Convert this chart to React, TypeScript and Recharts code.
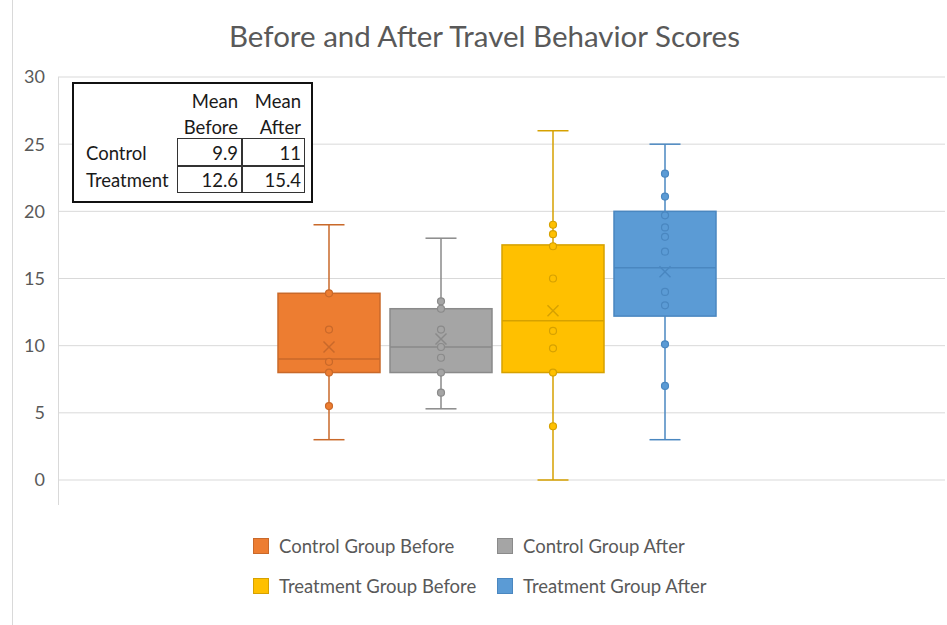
import React from 'react';
import { ComposedChart, Bar, Scatter, XAxis, YAxis, CartesianGrid, Legend } from 'recharts';

// groups (one box each)
const groups = ['Control Group Before', 'Control Group After', 'Treatment Group Before', 'Treatment Group After'];
const whiskerMin = [3, 5.3, 0, 3];
const whiskerMax = [19, 18, 26, 25];
const q1 = [8, 8, 8, 12.2];
const q3 = [13.9, 12.75, 17.5, 20];
const medians = [9, 9.9, 11.85, 15.8];
const means = [9.9, 10.5, 12.6, 15.5];

// inner points
const controlBeforePoints = [13.9, 11.2, 8.8, 8, 5.5];
const controlAfterPoints = [13.3, 12.75, 11.2, 9.9, 9.1, 8, 6.5];
const treatmentBeforePoints = [19, 18.3, 17.4, 15, 11.1, 9.8, 8, 4];
const treatmentAfterPoints = [22.8, 21.1, 19.7, 18.8, 18.1, 17, 14, 13, 10.1, 7];

const yTicks = [0, 5, 10, 15, 20, 25, 30];

// inset table
const tableHeads = [['Mean', 'Before'], ['Mean', 'After']];
const tableRows = ['Control', 'Treatment'];
const tableValues = [['9.9', '11'], ['12.6', '15.4']];

const FILL = ['#ED7D31', '#A5A5A5', '#FFC000', '#5B9BD5'];
const EDGE = ['#C9692A', '#8A8A8A', '#D6A100', '#4A87C0'];
const BOX_W = 102;
const CAP_W = 31;
const FONT = 'Lato, "Open Sans", sans-serif';
const TEXT = '#595959';

const boxData = groups.map((name, i) => ({
  name,
  whisker: [whiskerMin[i], whiskerMax[i]],
  box: [q1[i], q3[i]],
}));
const medianData = groups.map((name, i) => ({ name, value: medians[i] }));
const meanData = groups.map((name, i) => ({ name, value: means[i] }));
const pointData = [controlBeforePoints, controlAfterPoints, treatmentBeforePoints, treatmentAfterPoints].flatMap(
  (pts, i) => pts.map((v) => ({ name: groups[i], value: v }))
);

const idx = (p: any) => Math.max(0, groups.indexOf(p?.name));

const WhiskerShape = (props: any) => {
  const { x, y, width, height, payload } = props;
  const c = EDGE[idx(payload)];
  const cx = x + width / 2;
  return (
    <g>
      <line x1={cx} x2={cx} y1={y} y2={y + height} stroke={c} strokeWidth={1.5} />
      <line x1={cx - CAP_W / 2} x2={cx + CAP_W / 2} y1={y} y2={y} stroke={c} strokeWidth={1.5} />
      <line x1={cx - CAP_W / 2} x2={cx + CAP_W / 2} y1={y + height} y2={y + height} stroke={c} strokeWidth={1.5} />
    </g>
  );
};

const BoxShape = (props: any) => {
  const { x, y, width, height, payload } = props;
  const i = idx(payload);
  return <rect x={x} y={y} width={width} height={height} fill={FILL[i]} stroke={EDGE[i]} strokeWidth={1.5} />;
};

const MedianShape = (props: any) => {
  const { cx, cy, payload } = props;
  return <line x1={cx - BOX_W / 2} x2={cx + BOX_W / 2} y1={cy} y2={cy} stroke={EDGE[idx(payload)]} strokeWidth={1.5} />;
};

const MeanShape = (props: any) => {
  const { cx, cy, payload } = props;
  const c = EDGE[idx(payload)];
  const s = 5.5;
  return (
    <g>
      <line x1={cx - s} x2={cx + s} y1={cy - s} y2={cy + s} stroke={c} strokeWidth={1.5} />
      <line x1={cx - s} x2={cx + s} y1={cy + s} y2={cy - s} stroke={c} strokeWidth={1.5} />
    </g>
  );
};

const PointShape = (props: any) => {
  const { cx, cy, payload } = props;
  const i = idx(payload);
  return <circle cx={cx} cy={cy} r={3.5} fill={FILL[i]} stroke={EDGE[i]} strokeWidth={1.2} />;
};

const LegendGrid = () => (
  <div
    style={{
      position: 'absolute',
      left: 253,
      top: 537,
      display: 'grid',
      gridTemplateColumns: '244px auto',
      rowGap: 22,
      fontFamily: FONT,
      fontSize: 18.5,
      color: TEXT,
    }}
  >
    {groups.map((g, i) => (
      <div key={g} style={{ display: 'flex', alignItems: 'center', height: 18 }}>
        <span
          style={{
            width: 16,
            height: 16,
            boxSizing: 'border-box',
            background: FILL[i],
            border: `1px solid ${EDGE[i]}`,
            marginRight: 10,
          }}
        />
        <span style={{ whiteSpace: 'nowrap' }}>{g}</span>
      </div>
    ))}
  </div>
);

const cellText: React.CSSProperties = {
  position: 'absolute',
  fontFamily: FONT,
  fontSize: 18.5,
  lineHeight: '20px',
  color: '#1a1a1a',
  whiteSpace: 'nowrap',
};

const InsetTable = () => {
  const colRight = [238, 301];
  return (
    <div style={{ position: 'absolute', left: 0, top: 0, width: 947, height: 625, pointerEvents: 'none' }}>
      <div
        style={{
          position: 'absolute',
          left: 72,
          top: 82,
          width: 241,
          height: 121,
          boxSizing: 'border-box',
          border: '2px solid #111',
          background: '#fff',
        }}
      />
      {tableHeads.map((h, c) =>
        h.map((t, r) => (
          <div key={`${c}-${r}`} style={{ ...cellText, right: 947 - colRight[c], top: 91 + r * 26 }}>
            {t}
          </div>
        ))
      )}
      <div
        style={{
          position: 'absolute',
          left: 177,
          top: 138,
          width: 128,
          height: 55,
          boxSizing: 'border-box',
          border: '1.5px solid #333',
        }}
      />
      <div style={{ position: 'absolute', left: 241, top: 138, width: 1.5, height: 55, background: '#333' }} />
      <div style={{ position: 'absolute', left: 177, top: 165, width: 128, height: 1.5, background: '#333' }} />
      {tableRows.map((row, r) => (
        <React.Fragment key={row}>
          <div style={{ ...cellText, left: 86, top: 143 + r * 27 }}>{row}</div>
          {tableValues[r].map((v, c) => (
            <div key={c} style={{ ...cellText, right: 947 - colRight[c], top: 143 + r * 27 }}>
              {v}
            </div>
          ))}
        </React.Fragment>
      ))}
    </div>
  );
};

export default function App() {
  return (
    <div style={{ position: 'absolute', left: 0, top: 0, width: 947, height: 625, background: '#fff', overflow: 'hidden' }}>
      <div style={{ position: 'absolute', left: 12, top: 0, width: 1, height: 625, background: '#d9d9d9' }} />
      <div
        style={{
          position: 'absolute',
          left: 0,
          width: 947,
          top: 18,
          textAlign: 'center',
          fontFamily: FONT,
          fontSize: 29.5,
          color: TEXT,
          paddingLeft: 22,
          boxSizing: 'border-box',
        }}
      >
        Before and After Travel Behavior Scores
      </div>
      <div style={{ position: 'absolute', left: 0, top: 0 }}>
        <ComposedChart
          width={947}
          height={625}
          data={boxData}
          margin={{ top: 77, right: 2, bottom: 145, left: 0 }}
          barGap={-BOX_W}
          barSize={BOX_W}
        >
          <CartesianGrid vertical={false} stroke="#d9d9d9" />
          <XAxis
            dataKey="name"
            type="category"
            hide
            allowDuplicatedCategory={false}
            padding={{ left: 215, right: 224 }}
          />
          <YAxis
            width={58}
            domain={[0, 30]}
            ticks={yTicks}
            axisLine={false}
            tickLine={false}
            tickSize={0}
            tickMargin={13}
            tick={{ fill: TEXT, fontSize: 18, fontFamily: FONT }}
          />
          <Bar dataKey="whisker" shape={WhiskerShape} isAnimationActive={false} />
          <Bar dataKey="box" shape={BoxShape} isAnimationActive={false} />
          <Scatter data={medianData} dataKey="value" shape={MedianShape} isAnimationActive={false} />
          <Scatter data={pointData} dataKey="value" shape={PointShape} isAnimationActive={false} />
          <Scatter data={meanData} dataKey="value" shape={MeanShape} isAnimationActive={false} />
          <Legend
            layout="horizontal"
            verticalAlign="middle"
            align="center"
            wrapperStyle={{ left: 0, top: 0, width: 0, height: 0 }}
            content={() => <LegendGrid />}
          />
        </ComposedChart>
      </div>
      <div style={{ position: 'absolute', left: 58, top: 77, width: 1, height: 428, background: '#d9d9d9' }} />
      <InsetTable />
    </div>
  );
}
